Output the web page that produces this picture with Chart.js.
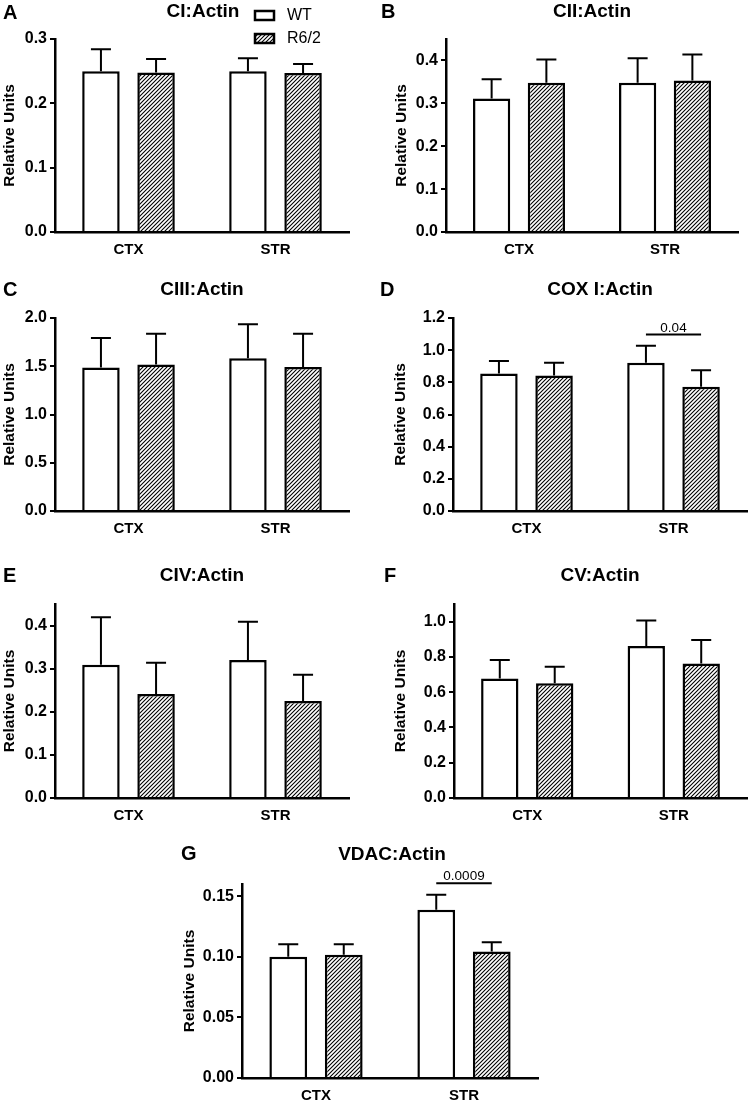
<!DOCTYPE html>
<html><head><meta charset="utf-8">
<script src="https://cdn.jsdelivr.net/npm/chart.js@4.4.1/dist/chart.umd.min.js"></script>
<style>
html,body{margin:0;padding:0;background:#fff;}
body{width:750px;height:1102px;position:relative;overflow:hidden;}
canvas{position:absolute;}
</style></head><body>
<script>
// ---------- DATA ----------
const categories = ['CTX', 'STR'];
const seriesLabels = ['WT', 'R6/2'];

// A  CI:Actin
const ciWT = [0.250, 0.250];
const ciWTErr = [0.034, 0.020];
const ciR62 = [0.248, 0.247];
const ciR62Err = [0.021, 0.014];
const ciTicks = [0.0, 0.1, 0.2, 0.3];

// B  CII:Actin
const ciiWT = [0.311, 0.348];
const ciiWTErr = [0.045, 0.057];
const ciiR62 = [0.348, 0.353];
const ciiR62Err = [0.054, 0.061];
const ciiTicks = [0.0, 0.1, 0.2, 0.3, 0.4];

// C  CIII:Actin
const ciiiWT = [1.486, 1.583];
const ciiiWTErr = [0.307, 0.351];
const ciiiR62 = [1.517, 1.493];
const ciiiR62Err = [0.321, 0.345];
const ciiiTicks = [0.0, 0.5, 1.0, 1.5, 2.0];

// D  COX I:Actin
const coxWT = [0.855, 0.921];
const coxWTErr = [0.078, 0.107];
const coxR62 = [0.842, 0.772];
const coxR62Err = [0.079, 0.103];
const coxTicks = [0.0, 0.2, 0.4, 0.6, 0.8, 1.0, 1.2];
const coxSig = {cat: 1, value: 1.097, text: '0.04'};

// E  CIV:Actin
const civWT = [0.309, 0.320];
const civWTErr = [0.110, 0.089];
const civR62 = [0.241, 0.225];
const civR62Err = [0.073, 0.061];
const civTicks = [0.0, 0.1, 0.2, 0.3, 0.4];

// F  CV:Actin
const cvWT = [0.678, 0.862];
const cvWTErr = [0.104, 0.144];
const cvR62 = [0.650, 0.763];
const cvR62Err = [0.094, 0.133];
const cvTicks = [0.0, 0.2, 0.4, 0.6, 0.8, 1.0];

// G  VDAC:Actin
const vdacWT = [0.0999, 0.1387];
const vdacWTErr = [0.0104, 0.0124];
const vdacR62 = [0.1016, 0.1043];
const vdacR62Err = [0.0088, 0.0077];
const vdacTicks = [0.00, 0.05, 0.10, 0.15];
const vdacSig = {cat: 1, value: 0.1607, text: '0.0009'};

// ---------- LAYOUT ----------
const FONT = '"Liberation Sans", Arial, Helvetica, sans-serif';
const panels = [
  {letter:'A', title:'CI:Actin', wt:ciWT, wtErr:ciWTErr, r62:ciR62, r62Err:ciR62Err, ticks:ciTicks, max:0.3, dec:1,
   canvas:[0,0,375,270], plot:[55,39,349,232], titleXY:[203,12], letterXY:[3,13], yTitleX:10, legend:true},
  {letter:'B', title:'CII:Actin', wt:ciiWT, wtErr:ciiWTErr, r62:ciiR62, r62Err:ciiR62Err, ticks:ciiTicks, max:0.45, dec:1,
   canvas:[375,0,375,270], plot:[446,39,738,232], titleXY:[592,12], letterXY:[381,12], yTitleX:402},
  {letter:'C', title:'CIII:Actin', wt:ciiiWT, wtErr:ciiiWTErr, r62:ciiiR62, r62Err:ciiiR62Err, ticks:ciiiTicks, max:2.0, dec:1,
   canvas:[0,278,375,282], plot:[55,318,349,511], titleXY:[202,290], letterXY:[3,290], yTitleX:10},
  {letter:'D', title:'COX I:Actin', wt:coxWT, wtErr:coxWTErr, r62:coxR62, r62Err:coxR62Err, ticks:coxTicks, max:1.2, dec:1,
   canvas:[375,278,375,282], plot:[453,318,747,511], titleXY:[600,290], letterXY:[380,290], yTitleX:401, sig:coxSig},
  {letter:'E', title:'CIV:Actin', wt:civWT, wtErr:civWTErr, r62:civR62, r62Err:civR62Err, ticks:civTicks, max:0.45, dec:1,
   canvas:[0,565,375,270], plot:[55,604,349,798], titleXY:[202,576], letterXY:[3,576], yTitleX:10},
  {letter:'F', title:'CV:Actin', wt:cvWT, wtErr:cvWTErr, r62:cvR62, r62Err:cvR62Err, ticks:cvTicks, max:1.1, dec:1,
   canvas:[375,565,375,270], plot:[454,604,747,798], titleXY:[600,576], letterXY:[384,576], yTitleX:401},
  {letter:'G', title:'VDAC:Actin', wt:vdacWT, wtErr:vdacWTErr, r62:vdacR62, r62Err:vdacR62Err, ticks:vdacTicks, max:0.16, dec:2,
   canvas:[175,840,400,262], plot:[242,884,538,1078], titleXY:[392,855], letterXY:[181,854], yTitleX:190, sig:vdacSig}
];

function makeHatch() {
  const c = document.createElement('canvas');
  c.width = 4; c.height = 4;
  const g = c.getContext('2d');
  g.fillStyle = '#fff'; g.fillRect(0, 0, 4, 4);
  g.strokeStyle = '#000'; g.lineWidth = 1.1;
  g.beginPath();
  g.moveTo(0, 4); g.lineTo(4, 0);
  g.moveTo(-1, 1); g.lineTo(1, -1);
  g.moveTo(3, 5); g.lineTo(5, 3);
  g.stroke();
  return g.createPattern(c, 'repeat');
}

const errorBarPlugin = {
  id: 'errorBars',
  afterDatasetsDraw(chart) {
    const ctx = chart.ctx, ys = chart.scales.y;
    ctx.save();
    ctx.strokeStyle = '#000'; ctx.lineWidth = 2;
    chart.data.datasets.forEach((ds, di) => {
      const meta = chart.getDatasetMeta(di);
      meta.data.forEach((bar, i) => {
        const v = ds.data[i], e = ds.errors[i];
        const y0 = ys.getPixelForValue(v);
        const y1 = ys.getPixelForValue(v + e);
        ctx.beginPath();
        ctx.moveTo(bar.x, y0); ctx.lineTo(bar.x, y1);
        ctx.moveTo(bar.x - 10, y1); ctx.lineTo(bar.x + 10, y1);
        ctx.stroke();
      });
    });
    ctx.restore();
  }
};

function makeTextPlugin(p) {
  const ox = p.canvas[0], oy = p.canvas[1];
  return {
    id: 'panelText',
    afterDraw(chart) {
      const ctx = chart.ctx;
      const ys = chart.scales.y;
      ctx.save();
      ctx.fillStyle = '#000';
      // title
      ctx.font = 'bold 19px ' + FONT;
      ctx.textAlign = 'center'; ctx.textBaseline = 'middle';
      ctx.fillText(p.title, p.titleXY[0] - ox, p.titleXY[1] - oy);
      // letter
      ctx.font = 'bold 20px ' + FONT;
      ctx.textAlign = 'left';
      ctx.fillText(p.letter, p.letterXY[0] - ox, p.letterXY[1] - oy);
      // y title
      ctx.save();
      ctx.font = 'bold 15.5px ' + FONT;
      ctx.translate(p.yTitleX - ox, (chart.chartArea.top + chart.chartArea.bottom) / 2);
      ctx.rotate(-Math.PI / 2);
      ctx.textAlign = 'center'; ctx.textBaseline = 'middle';
      ctx.fillText('Relative Units', 0, 0);
      ctx.restore();
      // significance
      if (p.sig) {
        const x1 = chart.getDatasetMeta(0).data[p.sig.cat].x;
        const x2 = chart.getDatasetMeta(1).data[p.sig.cat].x;
        const y = ys.getPixelForValue(p.sig.value);
        ctx.strokeStyle = '#000'; ctx.lineWidth = 2;
        ctx.beginPath(); ctx.moveTo(x1, y); ctx.lineTo(x2, y); ctx.stroke();
        ctx.font = '13.5px ' + FONT;
        ctx.textAlign = 'center'; ctx.textBaseline = 'alphabetic';
        ctx.fillText(p.sig.text, (x1 + x2) / 2, y - 3);
      }
      // legend
      if (p.legend) {
        const items = [[seriesLabels[0], '#fff', 10], [seriesLabels[1], chart.data.datasets[1].backgroundColor, 33]];
        items.forEach(([lab, fill, y]) => {
          ctx.fillStyle = fill;
          ctx.fillRect(255 - ox, y + 1 - oy, 19, 9);
          ctx.strokeStyle = '#000'; ctx.lineWidth = 2.5;
          ctx.strokeRect(255 - ox, y + 1 - oy, 19, 9);
          ctx.fillStyle = '#000';
          ctx.font = '16px ' + FONT;
          ctx.textAlign = 'left'; ctx.textBaseline = 'middle';
          ctx.fillText(lab, 287 - ox, y + 6 - oy);
        });
      }
      ctx.restore();
    }
  };
}

const hatch = makeHatch();

panels.forEach(p => {
  const [cx, cy, cw, ch] = p.canvas;
  const [pl, pt, pr, pb] = p.plot;
  const cv = document.createElement('canvas');
  cv.width = cw; cv.height = ch;
  cv.style.left = cx + 'px'; cv.style.top = cy + 'px';
  cv.style.width = cw + 'px'; cv.style.height = ch + 'px';
  document.body.appendChild(cv);
  const yw = pl - cx, xh = cy + ch - pb;
  new Chart(cv, {
    type: 'bar',
    data: {
      labels: categories,
      datasets: [
        {label: seriesLabels[0], data: p.wt, errors: p.wtErr, backgroundColor: '#fff', borderColor: '#000', borderWidth: 2.5},
        {label: seriesLabels[1], data: p.r62, errors: p.r62Err, backgroundColor: hatch, borderColor: '#000', borderWidth: 2.5}
      ]
    },
    options: {
      responsive: false, animation: false, devicePixelRatio: 1,
      layout: {padding: {top: pt - cy, right: cx + cw - pr, left: 0, bottom: 0}},
      plugins: {legend: {display: false}, tooltip: {enabled: false}, title: {display: false}},
      datasets: {bar: {categoryPercentage: 0.75, barPercentage: 0.68}},
      scales: {
        x: {
          grid: {display: false, drawTicks: false},
          border: {display: true, color: '#000', width: 2.5},
          ticks: {color: '#000', font: {family: FONT, size: 15, weight: 'bold'}, padding: 9, maxRotation: 0},
          afterFit: s => { s.height = xh; }
        },
        y: {
          min: 0, max: p.max,
          afterBuildTicks: s => { s.ticks = p.ticks.map(v => ({value: v})); },
          grid: {display: true, drawOnChartArea: false, drawTicks: true, tickLength: 5, color: '#000', lineWidth: 2},
          border: {display: true, color: '#000', width: 2.5},
          ticks: {color: '#000', font: {family: FONT, size: 16, weight: 'bold'}, padding: 3,
                  callback: v => Number(v).toFixed(p.dec)},
          afterFit: s => { s.width = yw; }
        }
      }
    },
    plugins: [errorBarPlugin, makeTextPlugin(p)]
  });
});
</script>
</body></html>
